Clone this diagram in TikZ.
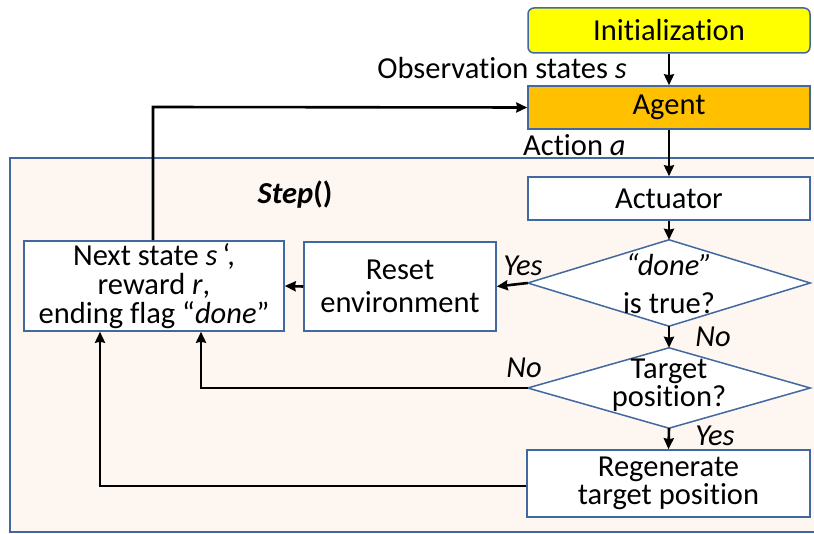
\documentclass[tikz,border=0pt]{standalone}
\usepackage{fontspec}
\setmainfont[Ligatures=NoCommon]{Carlito}
\usetikzlibrary{arrows.meta}
\definecolor{edgeblue}{HTML}{41689F}
\definecolor{initfill}{HTML}{FFFF00}
\definecolor{agentfill}{HTML}{FFC000}
\definecolor{framefill}{HTML}{FDF6F1}
\tikzset{
  box/.style={draw=edgeblue, line width=1.5pt, fill=white, inner sep=0pt, align=center},
  lbl/.style={inner sep=0pt},
  flow/.style={line width=2.6pt, -{Stealth[length=11pt,width=10pt,inset=1pt]}},
}
\begin{document}
\begin{tikzpicture}[x=1pt,y=-1pt, font=\fontsize{30.5}{33}\selectfont]
\useasboundingbox (0,0) rectangle (814,534);
% Step() frame
\draw[draw=edgeblue, line width=1.3pt, fill=framefill] (10,158) rectangle (840,532);
% main column boxes
\node[box, fill=initfill, rounded corners=6pt, minimum width=282, minimum height=45] (init) at (669,30.5) {Initialization};
\node[box, fill=agentfill, minimum width=282, minimum height=43] (agent) at (669,107.5) {Agent};
\node[box, minimum width=282, minimum height=43] (act) at (669,198.5) {Actuator};
% decision shapes
\node[minimum width=282, minimum height=86, inner sep=0pt] (d1) at (669,283) {};
\draw[draw=edgeblue, line width=1.5pt, fill=white] (d1.north) -- (d1.east) -- (d1.south) -- (d1.west) -- cycle;
\node[minimum width=282, minimum height=80, inner sep=0pt] (d2) at (669,388) {};
\draw[draw=edgeblue, line width=1.5pt, fill=white] (d2.north) -- (d2.east) -- (d2.south) -- (d2.west) -- cycle;
\node[inner sep=0pt] (d1a) at (669,265) {\textit{“done”}};
\node[inner sep=0pt] (d1b) at (669,303) {is true?};
\node[inner sep=0pt] (d2a) at (669,371) {Target};
\node[inner sep=0pt] (d2b) at (669,398) {position?};
\node[box, minimum width=283, minimum height=67, font=\fontsize{30.5}{27.5}\selectfont] (regen) at (668.5,483.5) {Regenerate\\target position};
\node[box, minimum width=192, minimum height=89] (reset) at (400,286.5) {Reset\\environment};
\node[box, minimum width=260, minimum height=90, font=\fontsize{30.5}{29}\selectfont] (next) at (154,286)
  {Next state \textit{s}\,‘,\\reward \textit{r},\\ending flag “\textit{done}”};
% labels
\node[lbl, anchor=east] (obs) at (627,68) {Observation states \textit{s}};
\node[lbl, anchor=west] (acta) at (523,145) {Action \textit{a}};
\node[lbl] (step) at (295,195) {\textbf{\textit{Step}()}};
\node[lbl] (yes1) at (523,266) {\textit{Yes}};
\node[lbl] (no1) at (713,337) {\textit{No}};
\node[lbl] (no2) at (524,368) {\textit{No}};
\node[lbl] (yes2) at (715,436) {\textit{Yes}};
% connectors
\draw[flow] (init.south) -- (agent.north);
\draw[flow] (agent.south) -- (act.north);
\draw[flow] (act.south) -- (d1.north);
\draw[flow] (d1.south) -- (d2.north);
\draw[flow] (d2.south) -- (regen.north);
\draw[flow] (d1.west) -- (reset.east);
\draw[flow] (reset.west) -- (next.east);
\coordinate (up) at (153,107);
\draw[flow] (next.north -| up) -- (up) -- (agent.west);
\coordinate (nocol) at (201,388);
\draw[flow] (d2.west) -- (nocol) -- (nocol |- next.south);
\coordinate (rgcol) at (100,486);
\draw[flow] (regen.west |- rgcol) -- (rgcol) -- (rgcol |- next.south);
\end{tikzpicture}
\end{document}
